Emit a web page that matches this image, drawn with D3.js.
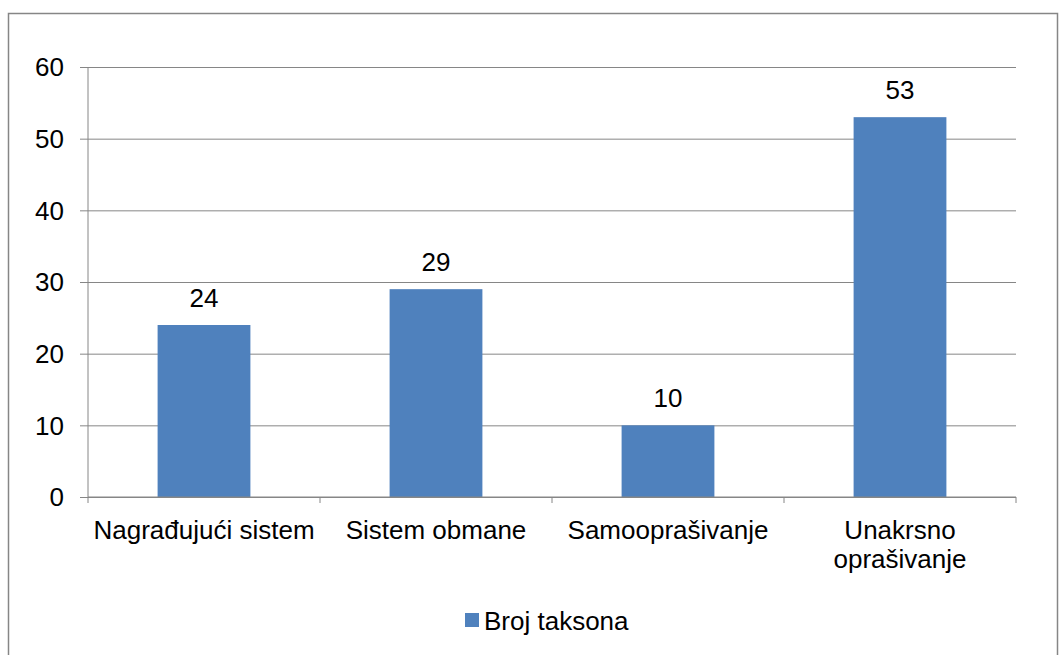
<!DOCTYPE html>
<html>
<head>
<meta charset="utf-8">
<script src="https://cdn.jsdelivr.net/npm/d3@7"></script>
<style>
  body { margin: 0; background: #fff; }
  text { font-family: "Liberation Sans", Arial, sans-serif; fill: #000; }
</style>
</head>
<body>
<div id="chart"></div>
<script>
var categories = [["Nagrađujući sistem"], ["Sistem obmane"], ["Samooprašivanje"], ["Unakrsno", "oprašivanje"]]
var values = [24, 29, 10, 53]
var yTicks = [0, 10, 20, 30, 40, 50, 60]
var seriesName = "Broj taksona"

var width = 1059, height = 655
var plotLeft = 88, plotRight = 1016, plotTop = 67, plotBottom = 497
var gridColor = "#868686"
var barColor = "#4F81BD"
var fontSize = 26

var svg = d3.select("#chart").append("svg")
  .attr("width", width).attr("height", height)

// outer chart border
svg.append("rect")
  .attr("x", 8.5).attr("y", 13.5)
  .attr("width", 1049).attr("height", 660)
  .attr("fill", "none").attr("stroke", gridColor).attr("stroke-width", 1.5)

var keys = categories.map(function(c){ return c.join(" ") })

var x = d3.scaleBand()
  .domain(keys)
  .range([plotLeft, plotRight])
  .paddingInner(0.6)
  .paddingOuter(0.3)

var y = d3.scaleLinear()
  .domain([0, 60])
  .range([plotBottom, plotTop])

// gridlines + y axis
var yAxis = svg.append("g")
  .attr("transform", "translate(" + plotLeft + ",0)")
  .call(d3.axisLeft(y).tickValues(yTicks).tickSize(8).tickPadding(16))
yAxis.select(".domain").remove()
yAxis.selectAll(".tick line").attr("stroke", gridColor)
yAxis.selectAll(".tick").append("line")
  .attr("x1", 0).attr("x2", plotRight - plotLeft)
  .attr("stroke", gridColor)
yAxis.selectAll(".tick text")
  .style("font-size", fontSize + "px")
  .attr("font-family", null)
  .attr("dy", "0.34em")

svg.append("line")
  .attr("x1", plotLeft).attr("x2", plotLeft)
  .attr("y1", plotTop).attr("y2", plotBottom)
  .attr("stroke", gridColor)

// bars
svg.selectAll(".bar")
  .data(values)
  .enter()
  .append("rect")
  .attr("class", "bar")
  .attr("x", function(d, i){ return x(keys[i]) })
  .attr("y", function(d){ return y(d) })
  .attr("width", x.bandwidth())
  .attr("height", function(d){ return y(0) - y(d) })
  .attr("fill", barColor)

// data labels
svg.selectAll(".lbl")
  .data(values)
  .enter()
  .append("text")
  .attr("class", "lbl")
  .attr("x", function(d, i){ return x(keys[i]) + x.bandwidth() / 2 })
  .attr("y", function(d){ return y(d) - 18 })
  .attr("text-anchor", "middle")
  .style("font-size", fontSize + "px")
  .text(function(d){ return d })

// x axis line and ticks on category boundaries
svg.append("line")
  .attr("x1", plotLeft).attr("x2", plotRight)
  .attr("y1", plotBottom).attr("y2", plotBottom)
  .attr("stroke", gridColor)
var step = x.step()
d3.range(keys.length + 1).forEach(function(i){
  var bx = plotLeft + i * step
  svg.append("line")
    .attr("x1", bx).attr("x2", bx)
    .attr("y1", plotBottom).attr("y2", plotBottom + 6)
    .attr("stroke", gridColor)
})

// category labels
categories.forEach(function(lines, i){
  var t = svg.append("text")
    .attr("text-anchor", "middle")
    .style("font-size", fontSize + "px")
  lines.forEach(function(line, j){
    t.append("tspan")
      .attr("x", x(keys[i]) + x.bandwidth() / 2)
      .attr("y", 539 + j * 29)
      .text(line)
  })
})

// legend
svg.append("rect")
  .attr("x", 465).attr("y", 613)
  .attr("width", 14).attr("height", 14)
  .attr("fill", barColor)
svg.append("text")
  .attr("x", 484).attr("y", 630)
  .style("font-size", fontSize + "px")
  .text(seriesName)
</script>
</body>
</html>
